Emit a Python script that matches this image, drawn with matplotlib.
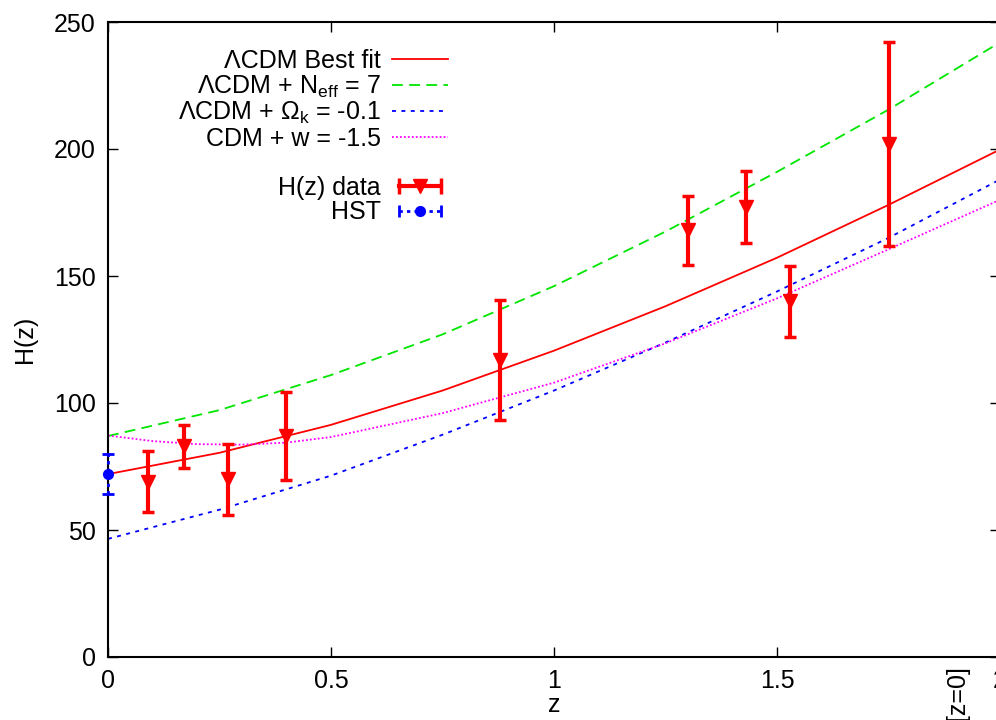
import numpy as np
import matplotlib
matplotlib.use("Agg")
import matplotlib.pyplot as plt
from matplotlib.lines import Line2D
from matplotlib.legend_handler import HandlerLine2D, HandlerTuple

plt.rcParams['font.family'] = ['Liberation Sans', 'DejaVu Sans']
plt.rcParams['mathtext.default'] = 'regular'

# H(z) measurements
z_data = [0.09, 0.17, 0.27, 0.40, 0.88, 1.30, 1.43, 1.53, 1.75]
H_data = [69, 83, 70, 87, 117, 168, 177, 140, 202]
H_err = [12, 8.4, 14, 17.5, 23.5, 13.5, 14.2, 14, 40]

# HST local value
z_hst = [0.0]
H_hst = [72]
H_hst_err = [8]

# model curves
z_grid = [0, 0.25, 0.5, 0.75, 1.0, 1.25, 1.5, 1.75, 2.0]
H_lcdm = [72, 80.4, 91.4, 104.9, 120.6, 138.1, 157.2, 178.0, 199.8]
H_neff = [87, 97.2, 111.0, 127.0, 146.0, 167.5, 191.0, 215.5, 242.0]
H_omk = [46.5, 58.0, 71.4, 87.5, 104.9, 123.8, 143.9, 165.0, 188.0]
z_w = [0, 0.1, 0.2, 0.3, 0.4, 0.5, 0.75, 1.0, 1.25, 1.5, 1.75, 2.0]
H_w = [87.2, 85.0, 83.8, 83.6, 84.4, 86.6, 96.0, 108.0, 123.5, 141.2, 160.5, 180.0]

x_ticks = [0, 0.5, 1, 1.5, 2]
x_ticklabels = ['0', '0.5', '1', '1.5', '2']
y_ticks = [0, 50, 100, 150, 200, 250]

fig = plt.figure(figsize=(9.96, 7.2), dpi=100)
ax = fig.add_axes([108 / 996, 1 - 657 / 720, (1000 - 108) / 996, (657 - 22) / 720])

l1, = ax.plot(z_grid, H_lcdm, color='#ff0000', lw=1.3, label=r'ΛCDM Best fit')
l2, = ax.plot(z_grid, H_neff, color='#00e600', lw=1.3, dashes=(6, 3.5),
              label=r'ΛCDM + N$_{eff}$ = 7')
l3, = ax.plot(z_grid, H_omk, color='#0000ff', lw=1.3, dashes=(2.2, 3),
              label=r'ΛCDM + Ω$_{k}$ = -0.1')
l4, = ax.plot(z_w, H_w, color='#ff00ff', lw=1.3, dashes=(1, 1.2),
              label=r'CDM + w = -1.5')

ax.errorbar(z_data, H_data, yerr=H_err, fmt='v', color='#ff0000', ms=10,
            elinewidth=3, capsize=4.5, capthick=2.5, zorder=5)
hst = ax.errorbar(z_hst, H_hst, yerr=H_hst_err, fmt='o', color='#0000ff', ms=7,
                  elinewidth=2, capsize=4, capthick=2, zorder=6, clip_on=False)
for art in hst[1]:
    art.set_clip_on(False)
for art in hst[2]:
    art.set_clip_on(False)
    art.set_linestyle((0, (1.2, 1.5)))

ax.set_xlim(0, 2)
ax.set_ylim(0, 250)
ax.set_xticks(x_ticks)
ax.set_xticklabels(x_ticklabels)
ax.set_yticks(y_ticks)
ax.tick_params(direction='in', top=True, right=True, length=7, width=1,
               labelsize=18, pad=9)
for sp in ax.spines.values():
    sp.set_linewidth(1.5)

ax.set_xlabel('z', fontsize=18, labelpad=0)
ax.set_ylabel('H(z)', fontsize=18, labelpad=12)

# legend handles in gnuplot style
blank = Line2D([], [], color='none')
d_line = Line2D([], [], color='#ff0000', lw=3, marker='|', ms=11, mew=2.5)
d_mark = Line2D([], [], color='#ff0000', ls='none', marker='v', ms=10)
h_line = Line2D([], [], color='#0000ff', lw=2, ls=(0, (1.2, 1.5)), marker='|', ms=9, mew=2)
h_mark = Line2D([], [], color='#0000ff', ls='none', marker='o', ms=7)

handles = [l1, l2, l3, l4, blank, (d_line, d_mark), (h_line, h_mark)]
labels = [l1.get_label(), l2.get_label(), l3.get_label(), l4.get_label(), ' ',
          'H(z) data', 'HST']
hmap = {d_line: HandlerLine2D(numpoints=2), h_line: HandlerLine2D(numpoints=2),
        d_mark: HandlerLine2D(numpoints=1), h_mark: HandlerLine2D(numpoints=1),
        tuple: HandlerTuple(ndivide=1)}
leg = ax.legend(handles, labels, handler_map=hmap, loc='upper right',
                bbox_to_anchor=((448 - 108) / 892, 1 - (49 - 22) / 635),
                frameon=False, markerfirst=False, alignment='right',
                fontsize=18, handlelength=2.25, handletextpad=0.45,
                labelspacing=0.02, borderpad=0, borderaxespad=0)

fig.text(957 / 996, 1 - 665 / 720, 'H[z=0]', rotation=90, ha='center', va='top',
         fontsize=18)

fig.savefig('out.png', dpi=100)
